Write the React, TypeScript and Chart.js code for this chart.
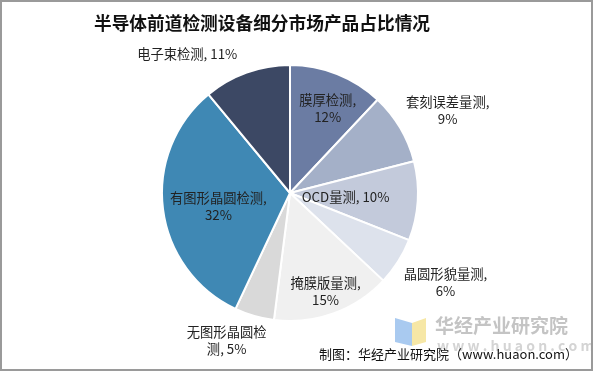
import React, { useEffect, useRef } from "react";
import { Chart, registerables } from "chart.js";

Chart.register(...registerables);

const categories = ["膜厚检测", "套刻误差量测", "OCD量测", "晶圆形貌量测", "掩膜版量测", "无图形晶圆检测", "有图形晶圆检测", "电子束检测"];
const shares = [12, 9, 10, 6, 15, 5, 32, 11];
const labelLines = [
  ["膜厚检测,", "12%"],
  ["套刻误差量测,", "9%"],
  ["OCD量测, 10%"],
  ["晶圆形貌量测,", "6%"],
  ["掩膜版量测,", "15%"],
  ["无图形晶圆检", "测, 5%"],
  ["有图形晶圆检测,", "32%"],
  ["电子束检测, 11%"],
];
const colors = ["#6B7CA3", "#A4B0C8", "#C3CADB", "#DDE2EC", "#F0F0F0", "#D9D9D9", "#3F88B4", "#3C4864"];
// label placement: radius factor and angle offset (degrees)
const labelRadius = [0.72, 1.39, 0.435, 1.4, 0.82, 1.256, 0.57, 1.35];
const labelAngle = [2.5, 3, 0.5, -2.6, 0, 7, -3.8, -16.7];

const title = "半导体前道检测设备细分市场产品占比情况";
const source = "制图：华经产业研究院（www.huaon.com）";
const FONT = '"Noto Sans CJK SC", "Noto Sans", sans-serif';

const decor = {
  id: "decor",
  beforeDraw(chart: any) {
    const c = chart.ctx;
    c.save();
    c.fillStyle = "#ffffff";
    c.fillRect(0, 0, chart.width, chart.height);
    // watermark
    c.fillStyle = "#A9CAF0";
    c.beginPath();
    c.moveTo(395, 318); c.lineTo(412, 323); c.lineTo(412, 346); c.lineTo(395, 342); c.closePath();
    c.fill();
    c.fillStyle = "#F6E7A6";
    c.beginPath();
    c.moveTo(412, 323); c.lineTo(426, 318); c.lineTo(426, 342); c.lineTo(412, 346); c.closePath();
    c.fill();
    c.fillStyle = "#C4C4C4";
    c.font = "bold 19px " + FONT;
    c.textAlign = "left";
    c.textBaseline = "middle";
    c.fillText("华经产业研究院", 435, 326);
    c.fillStyle = "#D4D4D4";
    c.font = "bold 14px " + FONT;
    c.fillText("w w w . h u a o n . c o m", 437, 346);
    c.restore();
  },
  afterDraw(chart: any) {
    const c = chart.ctx;
    c.save();
    const meta = chart.getDatasetMeta(0);
    c.font = "13.3px " + FONT;
    c.fillStyle = "#222222";
    c.textAlign = "center";
    c.textBaseline = "middle";
    meta.data.forEach((arc: any, i: number) => {
      const p = arc.getProps(["x", "y", "startAngle", "endAngle", "outerRadius"], true);
      const mid = (p.startAngle + p.endAngle) / 2 + (labelAngle[i] * Math.PI) / 180;
      const r = p.outerRadius * labelRadius[i];
      const x = p.x + Math.cos(mid) * r;
      const y = p.y + Math.sin(mid) * r;
      const lines = labelLines[i];
      const lh = 17;
      lines.forEach((t, k) => {
        c.fillText(t, x, y + (k - (lines.length - 1) / 2) * lh);
      });
    });
    // title
    c.font = "bold 17.7px " + FONT;
    c.fillStyle = "#111111";
    c.fillText(title, 262, 23);
    // source
    c.font = "13px " + FONT;
    c.fillStyle = "#111111";
    c.textAlign = "right";
    c.fillText(source, 578, 354);
    // border
    c.strokeStyle = "#9A9A9A";
    c.lineWidth = 2;
    c.strokeRect(1, 1, chart.width - 2, chart.height - 3);
    c.restore();
  },
};

export default function App() {
  const ref = useRef<HTMLCanvasElement>(null);
  useEffect(() => {
    if (!ref.current) return;
    const chart = new Chart(ref.current, {
      type: "pie",
      data: {
        labels: categories,
        datasets: [
          {
            data: shares,
            backgroundColor: colors,
            borderColor: "#ffffff",
            borderWidth: 2,
          },
        ],
      },
      options: {
        responsive: false,
        animation: false,
        layout: { padding: { top: 64, bottom: 50, left: 0, right: 13 } },
        plugins: { legend: { display: false }, tooltip: { enabled: false }, title: { display: false } },
      },
      plugins: [decor],
    });
    return () => chart.destroy();
  }, []);
  return (
    <div style={{ position: "fixed", left: 0, top: 0, width: 593, height: 372 }}>
      <canvas ref={ref} width={593} height={372} style={{ width: 593, height: 372, display: "block" }} />
    </div>
  );
}
